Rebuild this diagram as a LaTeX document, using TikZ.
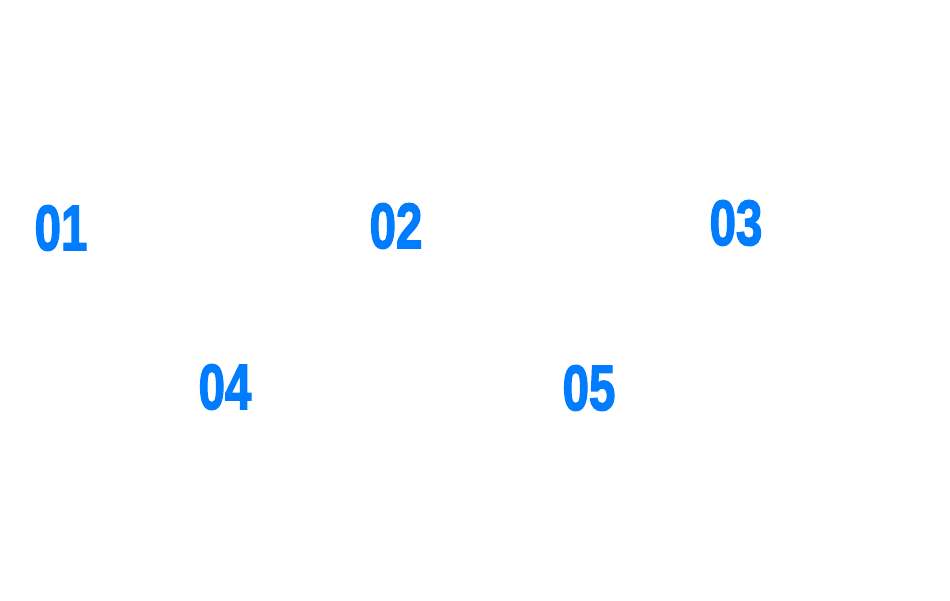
\documentclass[tikz,border=0pt]{standalone}
\usepackage{fontspec}
\setmainfont{Liberation Sans}
\newfontfamily\numfont[BoldFeatures={FakeBold=2.5}]{Liberation Sans}
\definecolor{numblue}{RGB}{0,125,255}
\begin{document}
\begin{tikzpicture}[x=1pt,y=1pt,
  num/.style={inner sep=0pt, text=numblue, font=\numfont\fontsize{64}{64}\selectfont\bfseries, xscale=0.74, transform shape}]
\useasboundingbox[fill=white] (0,0) rectangle (950,600);
\node[num] (n01) at (61,372) {01};
\node[num] (n02) at (396,374) {02};
\node[num] (n03) at (736,377) {03};
\node[num] (n04) at (225,213) {04};
\node[num] (n05) at (589,212) {05};
\end{tikzpicture}
\end{document}
